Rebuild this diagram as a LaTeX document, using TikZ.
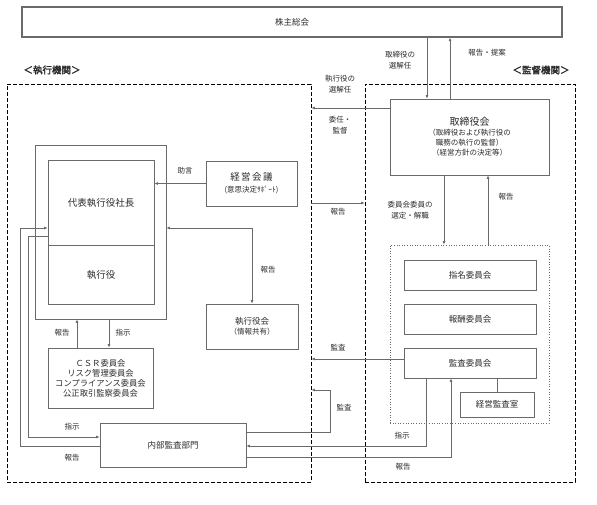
\documentclass[tikz,border=0pt]{standalone}
\usepackage{fontspec}
\setmainfont{Noto Sans CJK JP}
\newfontfamily\jpb[FakeBold=2]{Noto Sans CJK JP}
\usetikzlibrary{arrows.meta,calc}
\definecolor{lg}{HTML}{6A6A6A}
\definecolor{tx}{HTML}{2A2A2A}
\tikzset{
  box/.style={draw=lg, line width=0.8pt, rectangle, inner sep=0pt, align=center, text=tx, font=\fontsize{8.5}{10}\selectfont},
  dbox/.style={draw=black, line width=0.8pt, dash pattern=on 4pt off 2pt, rectangle, inner sep=0pt},
  arr/.style={draw=lg, line width=0.7pt, -{Latex[length=3.5pt,width=3pt]}},
  arrtwo/.style={draw=lg, line width=0.7pt, {Latex[length=3.5pt,width=3pt]}-{Latex[length=3.5pt,width=3pt]}},
  plain/.style={draw=lg, line width=0.7pt},
  lab/.style={inner sep=0pt, align=center, text=tx, font=\fontsize{7.5}{11}\selectfont},
  hd/.style={inner sep=0pt, text=tx, font=\jpb\fontsize{9.5}{11}\selectfont}
}
\begin{document}
\begin{tikzpicture}[x=1pt,y=-1pt]
\useasboundingbox (0,0) rectangle (597,504);
% helper coordinates
\coordinate (a1) at (427,0);
\coordinate (a2) at (450,0);
\coordinate (a3) at (77,0);
\coordinate (a4) at (109,0);
\coordinate (a5) at (20,0);
\coordinate (a6) at (28,0);
\coordinate (a7) at (330,0);
\coordinate (a8) at (426,0);
\coordinate (a9) at (451,0);
\coordinate (a10) at (444,0);
\coordinate (a11) at (488,0);
\coordinate (b1) at (0,108);
\coordinate (b2) at (0,203);
\coordinate (b3) at (0,228);
\coordinate (b4) at (0,446);
\coordinate (b5) at (0,236);
\coordinate (b6) at (0,437);
\coordinate (b7) at (0,432);
\coordinate (b8) at (0,390);
\coordinate (b9) at (0,457);
\coordinate (b10) at (0,359);

% top
\node[box, line width=1.2pt, minimum width=540pt, minimum height=30pt] (sh) at (292,22) {株主総会};
\node[hd] (exl) at (52,70) {＜執行機関＞};
\node[hd] (sul) at (541,70) {＜監督機関＞};

% dashed areas
\node[dbox, minimum width=304pt, minimum height=398pt] (ex) at (159,283) {};
\node[dbox, minimum width=210pt, minimum height=398pt] (su) at (470,283) {};

% executive side
\node[box, minimum width=131pt, minimum height=174pt] (co) at (100.5,232) {};
\node[box, minimum width=106pt, minimum height=85pt, font=\fontsize{9.5}{11}\selectfont] (ceo) at (101,202.5) {代表執行役社長};
\node[box, minimum width=106pt, minimum height=59pt, font=\fontsize{9.5}{11}\selectfont] (eo) at (101,274.5) {執行役};
\node[box, minimum width=91pt, minimum height=45pt, font=\fontsize{7.5}{12}\selectfont] (kk) at (251.5,183.5) {{\fontsize{9.5}{12}\selectfont 経\hspace{1.5pt}営\hspace{1.5pt}会\hspace{1.5pt}議}\\(意思決定ｻﾎﾟｰﾄ)};
\node[box, minimum width=92pt, minimum height=45pt, font=\fontsize{7.5}{10.5}\selectfont] (sk) at (252,326.5) {{\fontsize{8.5}{10}\selectfont 執行役会}\\（情報共有）};
\node[box, minimum width=105pt, minimum height=60pt, font=\fontsize{8.3}{10}\selectfont] (csr) at (100.5,378) {ＣＳＲ委員会\\リスク管理委員会\\コンプライアンス委員会\\公正取引監察委員会};
\node[box, minimum width=146pt, minimum height=44pt] (nb) at (173,445) {内部監査部門};

% supervisory side
\node[box, minimum width=159pt, minimum height=76pt, font=\fontsize{7.5}{10}\selectfont] (bd) at (469.5,137) {{\fontsize{10}{12}\selectfont 取締役会}\\（取締役および執行役の\\職務の執行の監督）\\（経営方針の決定等）};
\node[draw=lg, dotted, line width=0.6pt, inner sep=0pt, minimum width=159pt, minimum height=178pt] (dt) at (469.5,334) {};
\node[box, minimum width=132pt, minimum height=30pt] (sm) at (470,275) {指名委員会};
\node[box, minimum width=132pt, minimum height=30pt] (hs) at (470,319) {報酬委員会};
\node[box, minimum width=132pt, minimum height=30pt] (ks) at (470,363) {監査委員会};
\node[box, minimum width=74pt, minimum height=25pt] (kr) at (497,404.5) {経営監査室};

% connectors
\draw[arr] (sh.south -| a1) -- (bd.north -| a1);
\draw[arr] (bd.north -| a2) -- (sh.south -| a2);
\draw[arr] (bd.west |- b1) -- (ex.east |- b1);
\draw[arr] (ex.east |- b2) -- (su.west |- b2);
\draw[arr] (kk.west) -- (ceo.east |- kk.west);
\draw[arrtwo] (co.east |- b3) -| (sk.north);
\draw[arr] (csr.north -| a3) -- (co.south -| a3);
\draw[arr] (co.south -| a4) -- (csr.north -| a4);
\draw[arr] (nb.west |- b4) -| (a5 |- b3) -- (ceo.west |- b3);
\draw[arr] (ceo.west |- b5) -| (a6 |- b6) -- (nb.west |- b6);
\draw[arr] (nb.east |- b7) -| (a7 |- b8) -- (ex.east |- b8);
\draw[arr] (ks.south -| a8) |- (nb.east |- b4);
\draw[arr] (nb.east |- b9) -| (ks.south -| a9);
\draw[arr] (ks.west |- b10) -- (ex.east |- b10);
\draw[plain] (ks.south -| kr.north) -- (kr.north);
\draw[arr] (bd.south -| a10) -- (dt.north -| a10);
\draw[arr] (dt.north -| a11) -- (bd.south -| a11);

% labels
\node[lab] (l1) at (400,60.5) {取締役の\\選解任};
\node[lab] (l2) at (487,53) {報告・提案};
\node[lab] (l3) at (340,84.5) {執行役の\\選解任};
\node[lab] (l4) at (340,125) {委任・\\監督};
\node[lab] (l5) at (185,171) {助言};
\node[lab] (l6) at (338,212) {報告};
\node[lab] (l7) at (410,210.5) {委員会委員の\\選定・解職};
\node[lab] (l8) at (506,197) {報告};
\node[lab] (l9) at (268,270) {報告};
\node[lab] (l10) at (62,333) {報告};
\node[lab] (l11) at (123,333) {指示};
\node[lab] (l12) at (338,348) {監査};
\node[lab] (l13) at (344,408) {監査};
\node[lab] (l14) at (72,427) {指示};
\node[lab] (l15) at (72,458) {報告};
\node[lab] (l16) at (402,436) {指示};
\node[lab] (l17) at (403,467) {報告};
\end{tikzpicture}
\end{document}
